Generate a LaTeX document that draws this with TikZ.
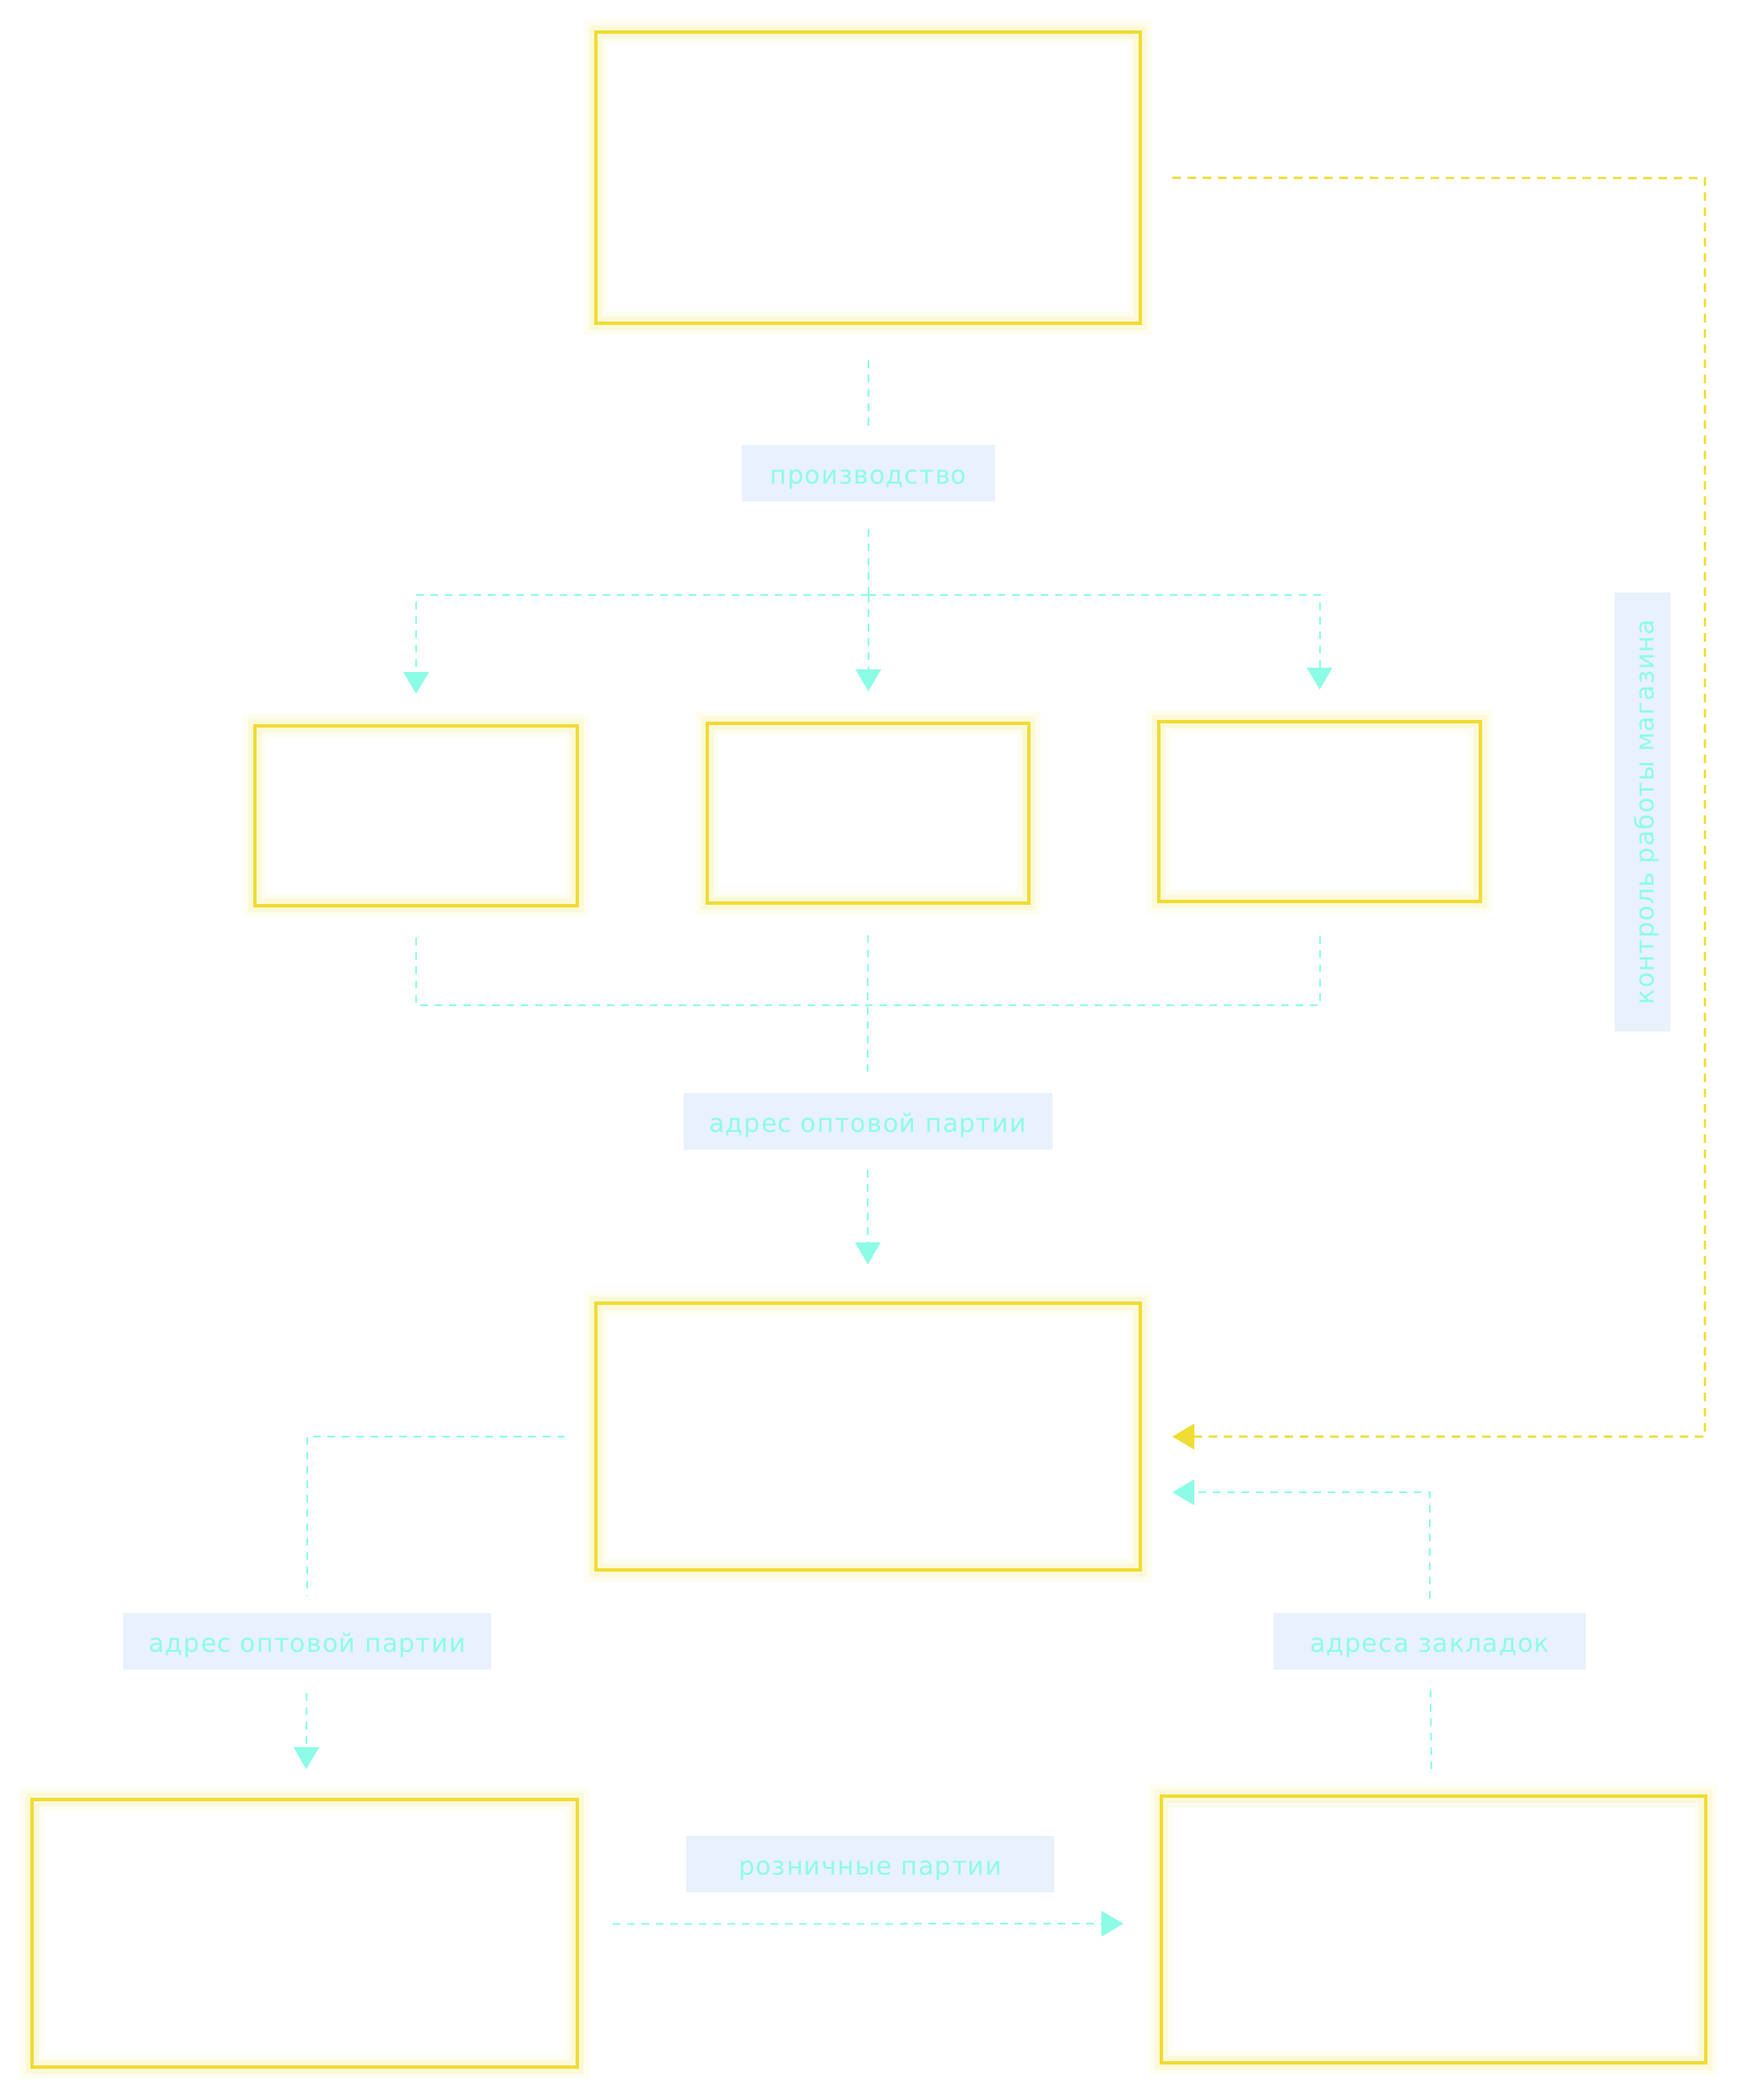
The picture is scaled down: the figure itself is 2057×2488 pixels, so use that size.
\documentclass[tikz,border=0pt]{standalone}
\usepackage{fontspec}
\setmainfont[LetterSpace=4]{DejaVu Sans}
\usetikzlibrary{arrows.meta,calc}

\definecolor{boxyellow}{HTML}{F0DC32}
\definecolor{flowcyan}{HTML}{8CFCE6}
\definecolor{tagblue}{HTML}{E8F1FC}

\tikzset{
  glowbox/.style={draw=boxyellow, line width=2pt, inner sep=0pt,
    preaction={draw=boxyellow, draw opacity=0.07, line width=14pt},
    preaction={draw=boxyellow, draw opacity=0.12, line width=8pt}},
  tagbox/.style={fill=tagblue, text=flowcyan, inner sep=0pt,
    minimum height=33.5pt, text height=17pt, text depth=3.5pt,
    font=\fontsize{15pt}{17pt}\selectfont},
  flow/.style={draw=flowcyan, line width=1pt, dash pattern=on 4.5pt off 4pt},
  ctrlflow/.style={draw=boxyellow, line width=1.3pt, dash pattern=on 5pt off 4pt}
}

\begin{document}
\begin{tikzpicture}[x=0.5pt, y=-0.5pt, >={Triangle[width=15pt,length=13pt]}]
    \useasboundingbox (0,0) rectangle (2057,2488);

    % Блоки
    \node[glowbox, minimum width=322.5pt, minimum height=172.5pt] (top) at (1028.5,210.5) {};
    \node[glowbox, minimum width=191pt, minimum height=106.5pt] (left) at (493,966.5) {};
    \node[glowbox, minimum width=190.5pt, minimum height=106.5pt] (centre) at (1028.5,963.5) {};
    \node[glowbox, minimum width=190.5pt, minimum height=106.5pt] (right) at (1563.5,961.5) {};
    \node[glowbox, minimum width=322.5pt, minimum height=158pt] (shop) at (1028.5,1702) {};
    \node[glowbox, minimum width=323pt, minimum height=158.5pt] (stock) at (361,2290.5) {};
    \node[glowbox, minimum width=322.5pt, minimum height=158pt] (couriers) at (1698.5,2286) {};

    % Подписи
    \node[tagbox, minimum width=150pt] (prod) at (1029,560) {производство};
    \node[tagbox, minimum width=218.5pt] (bulk) at (1028,1328) {адрес оптовой партии};
    \node[tagbox, minimum width=218pt] (bulkout) at (364,1944) {адрес оптовой партии};
    \node[tagbox, minimum width=185pt] (drops) at (1694,1944) {адреса закладок};
    \node[tagbox, minimum width=218pt] (retail) at (1031,2208) {розничные партии};
    \node[tagbox, minimum width=260pt, minimum height=33pt, rotate=90] (ctrl) at (1946,962) {контроль работы магазина};

    % Производство
    \draw[flow, shorten <=21pt, shorten >=11pt] (top) -- (prod);
    \coordinate (split) at ($(prod.south)+(0,111)$);
    \draw[flow, shorten <=16.5pt] (prod) -- (split);
    \draw[flow, ->, shorten >=18pt] (split) -- (centre);
    \draw[flow, ->, shorten >=18pt] (split) -| (left);
    \draw[flow, ->, shorten >=18pt] (split) -| (right);

    % Сбор в оптовую партию
    \coordinate (merge) at ($(centre.south)+(0,119)$);
    \draw[flow, shorten <=18pt, shorten >=18pt] (left) |- (merge) -| (right);
    \draw[flow, shorten <=18pt, shorten >=10.5pt] (centre) -- (bulk);
    \draw[flow, ->, shorten <=12pt, shorten >=22pt] (bulk) -- (shop);

    % Склад
    \draw[flow, shorten <=17.5pt, shorten >=9.5pt] (shop) -| (bulkout);
    \draw[flow, ->, shorten <=14pt, shorten >=17pt] (bulkout) -- (stock);

    % Закладки
    \coordinate (shopin) at ($(shop.east)+(0,66)$);
    \draw[flow, shorten <=15pt, shorten >=11pt] (couriers) -- (drops);
    \draw[flow, ->, shorten <=8pt, shorten >=18pt] (drops) |- (shopin);

    % Розница
    \draw[flow, ->, shorten <=20pt, shorten >=21.5pt] ([yshift=5.5pt]stock.east) -- ([yshift=3.5pt]couriers.west);

    % Контроль
    \coordinate (railtop) at (2020,211);
    \coordinate (railbot) at (2020,1702);
    \draw[ctrlflow, ->, shorten <=18pt, shorten >=18pt] (top) -- (railtop) -- (railbot) -- (shop);
\end{tikzpicture}
\end{document}
